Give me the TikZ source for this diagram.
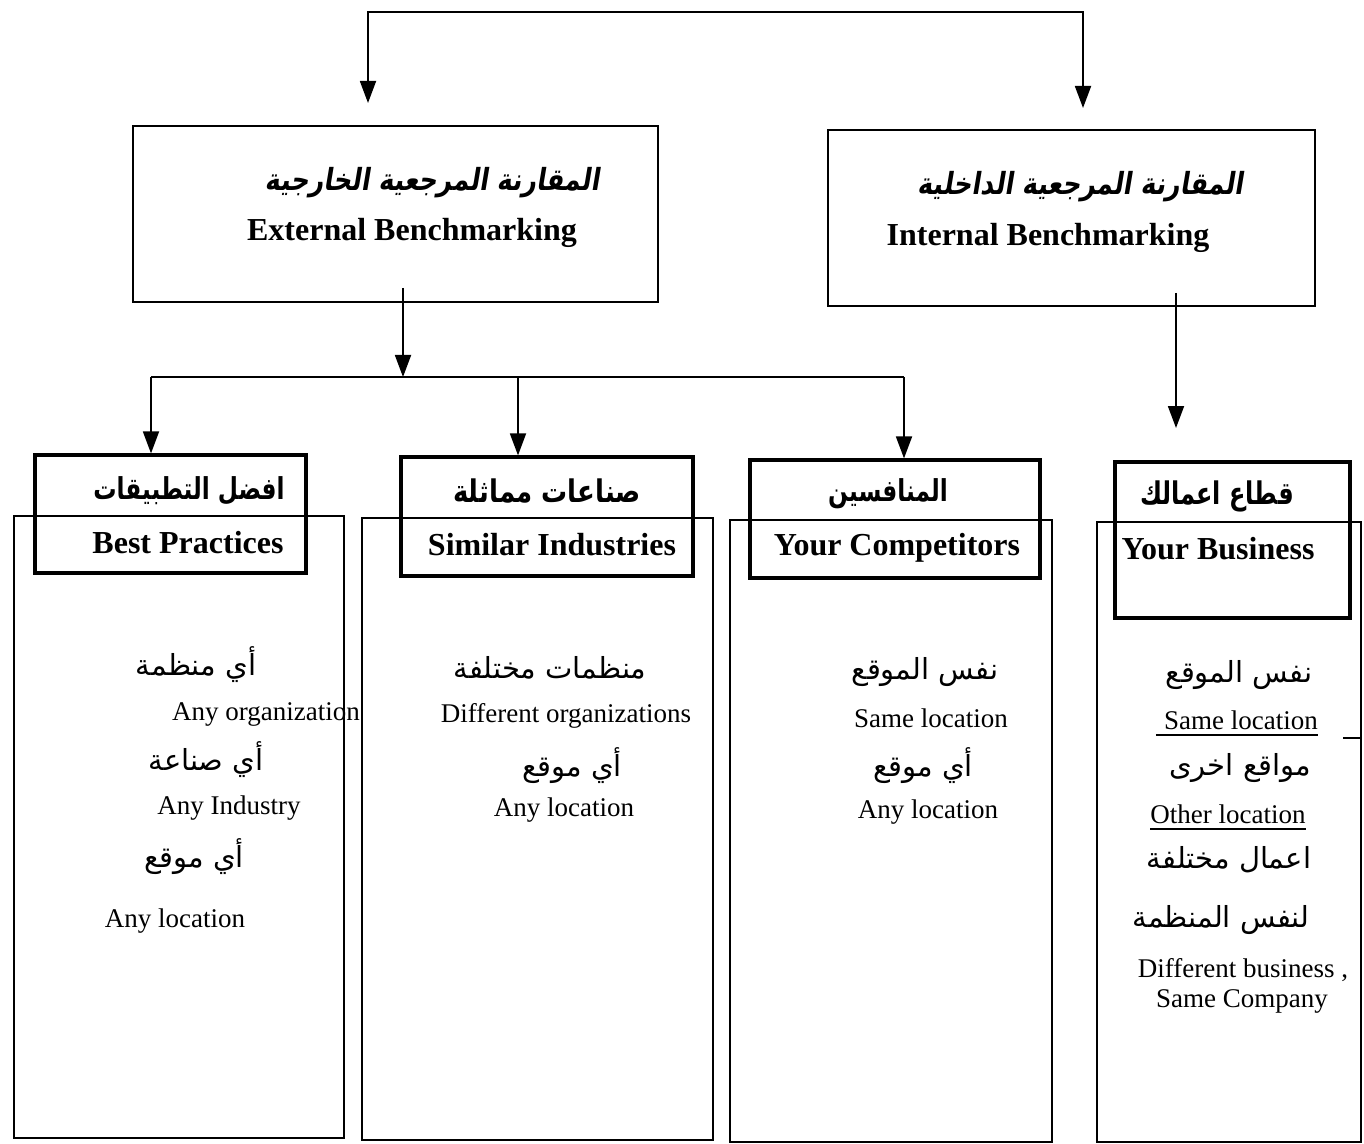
\documentclass[tikz,border=0pt]{standalone}
\usepackage{fontspec}
\setmainfont{Liberation Serif}
\newfontfamily\arabicfont[Script=Arabic]{DejaVu Sans}
\newfontfamily\arabicbold[Script=Arabic]{DejaVu Sans Bold}
\newfontfamily\arabictitle[Script=Arabic,FakeSlant=0.2]{DejaVu Sans Bold}
\TeXXeTstate=1
\usetikzlibrary{arrows.meta}
\begin{document}
\begin{tikzpicture}[x=0.5pt,y=-0.5pt,
  txt/.style={inner sep=0pt, anchor=center},
  entitle/.style={txt, font=\fontsize{16}{18}\selectfont\bfseries},
  artitle/.style={txt, font=\fontsize{12.7}{15}\selectfont\arabictitle},
  arhead/.style={txt, font=\fontsize{#1}{15}\selectfont\arabicbold},
  arbody/.style={txt, font=\fontsize{14.5}{17}\selectfont\arabicfont},
  enbody/.style={txt, font=\fontsize{13.5}{15}\selectfont},
  mainbox/.style={draw, line width=1pt},
  headbox/.style={draw, line width=1.6pt},
  colbox/.style={draw, line width=1pt},
  conn/.style={line width=0.9pt},
  arr/.style={conn, -{Triangle[width=8pt,length=11pt]}},
  arrboth/.style={conn, {Triangle[width=8pt,length=11pt]}-{Triangle[width=8pt,length=11pt]}}
]
\useasboundingbox (0,0) rectangle (1364,1144);

% level one: external and internal benchmarking
\node[mainbox, inner sep=0pt, minimum width=262.5pt, minimum height=88pt] (ext) at (395.5,214) {};
\node[mainbox, inner sep=0pt, minimum width=243.5pt, minimum height=88pt] (int) at (1071.5,218) {};
\node[artitle] (extar) at (432,183) {\scalebox{1}[1.2]{\beginR المقارنة المرجعية الخارجية\endR}};
\node[entitle] (exten) at (412,233) {External Benchmarking};
\node[artitle] (intar) at (1080,187) {\scalebox{1}[1.2]{\beginR المقارنة المرجعية الداخلية\endR}};
\node[entitle] (inten) at (1048,238) {Internal Benchmarking};

% columns (thin frames)
\node[colbox, inner sep=0pt, minimum width=165pt, minimum height=311pt] (col1) at (179,827) {};
\node[colbox, inner sep=0pt, minimum width=175.5pt, minimum height=311pt] (col2) at (537.5,829) {};
\node[colbox, inner sep=0pt, minimum width=161pt, minimum height=311pt] (col3) at (891,831) {};
\node[colbox, inner sep=0pt, minimum width=132pt, minimum height=310pt] (col4) at (1229,832) {};

% column headers (heavy frames)
\node[headbox, inner sep=0pt, minimum width=135.5pt, minimum height=59pt] (bp) at (170.5,514) {};
\node[headbox, inner sep=0pt, minimum width=146pt, minimum height=59.5pt] (si) at (547,516.5) {};
\node[headbox, inner sep=0pt, minimum width=145pt, minimum height=59pt] (yc) at (895,519) {};
\node[headbox, inner sep=0pt, minimum width=117.5pt, minimum height=78pt] (yb) at (1232.5,540) {};

\node[arhead=11.6] (bpar) at (189,491) {\scalebox{1}[1.3]{\beginR افضل التطبيقات\endR}};
\node[entitle] (bpen) at (188,543) {Best Practices};
\node[arhead=13] (siar) at (547,491) {\scalebox{1}[1.2]{\beginR صناعات مماثلة\endR}};
\node[entitle] (sien) at (552,545) {Similar Industries};
\node[arhead=11.6] (ycar) at (888,494) {\scalebox{1}[1.3]{\beginR المنافسين\endR}};
\node[entitle] (ycen) at (897,548) {Your Competitors};
\node[arhead=12] (ybar) at (1217,496) {\scalebox{1}[1.3]{\beginR قطاع اعمالك\endR}};
\node[entitle] (yben) at (1218,549) {Your Business};

% column 1
\node[arbody] (c1a) at (196,665) {\beginR أي منظمة\endR};
\node[enbody] (c1b) at (266,714) {Any organization};
\node[arbody] (c1c) at (206,760) {\beginR أي صناعة\endR};
\node[enbody] (c1d) at (229,808) {Any Industry};
\node[arbody] (c1e) at (194,857) {\beginR أي موقع\endR};
\node[enbody] (c1f) at (175,921) {Any location};

% column 2
\node[arbody] (c2a) at (550,668) {\beginR منظمات مختلفة\endR};
\node[enbody] (c2b) at (566,716) {Different organizations};
\node[arbody] (c2c) at (572,766) {\beginR أي موقع\endR};
\node[enbody] (c2d) at (564,810) {Any location};

% column 3
\node[arbody] (c3a) at (925,672) {\beginR نفس الموقع\endR};
\node[enbody] (c3b) at (931,718) {Same location};
\node[arbody] (c3c) at (923,766) {\beginR أي موقع\endR};
\node[enbody] (c3d) at (928,812) {Any location};

% column 4
\node[arbody] (c4a) at (1239,675) {\beginR نفس الموقع\endR};
\node[enbody] (c4b) at (1241,720) {Same location};
\node[arbody] (c4c) at (1240,768) {\beginR مواقع اخرى\endR};
\node[enbody] (c4d) at (1228,814) {Other location};
\node[arbody] (c4e) at (1229,860) {\beginR اعمال مختلفة\endR};
\node[arbody] (c4f) at (1221,920) {\beginR لنفس المنظمة\endR};
\node[enbody] (c4g) at (1243,970) {Different business ,};
\node[enbody] (c4h) at (1242,1001) {Same Company};
\draw[line width=0.7pt] ([xshift=-4pt,yshift=-2.5pt]c4b.south west) -- ([yshift=-2.5pt]c4b.south east);
\draw[line width=0.7pt] ([yshift=-2.5pt]c4d.south west) -- ([yshift=-2.5pt]c4d.south east);
\coordinate (markA) at (1343,738);
\coordinate (markB) at (1362,738);
\draw[line width=0.8pt] (markA) -- (markB);

% connectors
\coordinate (topL) at (368,12);
\coordinate (topR) at (1083,12);
\coordinate (tipL) at (368,103);
\coordinate (tipR) at (1083,108);
\draw[arrboth] (tipL) -- (topL) -- (topR) -- (tipR);

\coordinate (extout) at (403,288);
\coordinate (bar) at (403,377);
\draw[arr] (extout) -- (bar);
\coordinate (b1) at (151,377);
\coordinate (b2) at (518,377);
\coordinate (b3) at (904,377);
\draw[conn] (b1) -- (b3);
\draw[arr] (b1) -- (b1 |- bp.north);
\draw[arr] (b2) -- (b2 |- si.north);
\draw[arr] (b3) -- (b3 |- yc.north);

\coordinate (intout) at (1176,293);
\coordinate (inttip) at (1176,428);
\draw[arr] (intout) -- (inttip);
\end{tikzpicture}
\end{document}
